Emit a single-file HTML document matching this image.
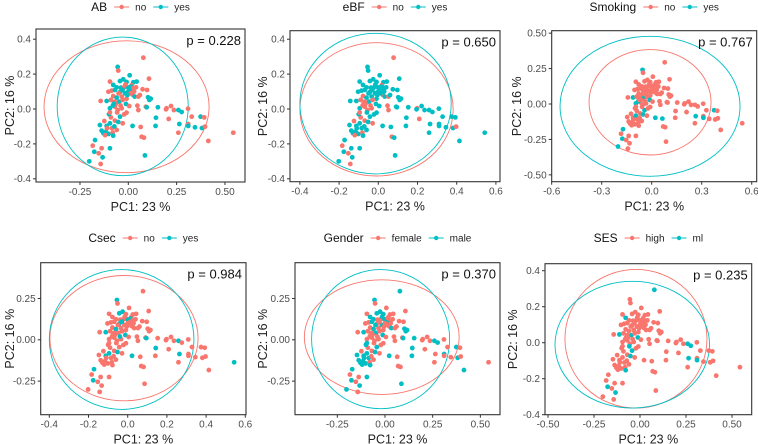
<!DOCTYPE html>
<html><head><meta charset="utf-8"><style>
html,body{margin:0;padding:0;background:#fff;}
svg{display:block;font-family:"Liberation Sans",Arial,sans-serif;}
</style></head><body>
<svg id="chart" width="758" height="444" viewBox="0 0 758 444" xmlns="http://www.w3.org/2000/svg"></svg>
<script>
// ---- shared PCA scores (PC1, PC2) ----
const pc1 = [0.078,-0.055,-0.052,0.007,0.107,-0.095,-0.043,-0.026,-0.009,0.026,0.043,0.017,-0.078,-0.060,-0.038,-0.022,-0.002,0.016,0.026,0.040,0.074,0.097,-0.103,-0.086,-0.069,-0.043,-0.017,0.009,0.022,0.033,0.052,0.102,0.116,0.109,-0.078,-0.060,-0.034,-0.009,-0.143,-0.112,-0.090,-0.069,-0.047,-0.029,-0.012,0.005,0.047,0.091,0.153,0.198,0.221,0.236,0.259,0.276,0.309,0.195,-0.095,-0.069,-0.055,-0.034,-0.009,0.052,0.095,0.143,0.209,0.328,0.310,0.310,0.374,0.393,0.381,0.397,0.543,0.414,0.259,0.141,0.264,0.345,-0.124,-0.147,-0.112,-0.095,-0.069,-0.052,-0.029,-0.090,-0.043,-0.022,0.022,0.064,-0.138,-0.116,-0.102,-0.081,-0.129,-0.078,0.069,0.081,-0.172,-0.184,-0.176,-0.153,-0.138,-0.095,-0.133,-0.202,-0.143,0.086,
 -0.050,-0.030,-0.015,0.000,0.012,-0.065,-0.080,-0.058,-0.040,-0.100,-0.085,-0.072,-0.060,-0.110,-0.095,-0.075,0.030,0.060,-0.005,-0.120];
const pc2 = [0.294,0.241,0.220,0.193,0.174,0.157,0.160,0.170,0.155,0.153,0.157,0.136,0.138,0.124,0.122,0.124,0.124,0.128,0.120,0.124,0.113,0.109,0.099,0.105,0.109,0.097,0.090,0.105,0.082,0.071,0.071,0.067,0.059,0.052,0.074,0.065,0.071,0.059,0.046,0.046,0.052,0.042,0.042,0.052,0.029,0.017,0.019,0.013,0.010,0.004,0.017,-0.006,-0.006,-0.017,0.002,-0.002,0.004,0.013,-0.006,0.004,-0.021,-0.006,0.010,-0.050,-0.057,-0.044,-0.086,-0.097,-0.044,-0.048,-0.109,-0.101,-0.136,-0.183,-0.136,-0.097,-0.086,-0.105,-0.069,-0.092,-0.097,-0.082,-0.067,-0.074,-0.082,-0.048,-0.044,-0.031,-0.097,-0.103,-0.124,-0.130,-0.143,-0.136,-0.139,-0.153,-0.159,-0.164,-0.178,-0.210,-0.245,-0.254,-0.225,-0.225,-0.277,-0.300,-0.315,-0.266,
 0.090,0.110,0.140,0.100,0.090,0.030,0.020,-0.020,0.020,-0.030,-0.110,-0.100,-0.120,-0.110,-0.020,0.030,0.100,0.080,0.080,-0.150];

// ---- second-group membership per panel (1-based point indices) ----
const groupAB = [2,4,7,8,9,10,11,13,14,15,17,18,25,26,27,28,30,32,33,34,36,40,43,45,49,53,54,57,63,64,68,69,71,76,77,78,80,81,82,84,87,89,91,92,93,95,96,99,101,104,105,106,108,110,112,115,118,120,124,127];
const groupEBF = [2,3,4,5,6,7,8,9,10,11,13,14,15,16,17,18,19,20,21,22,23,24,25,26,27,28,30,32,33,34,36,37,38,39,40,43,45,46,48,49,51,52,53,54,55,56,57,61,63,64,66,67,68,69,70,71,73,74,75,76,77,78,80,81,82,84,87,88,89,90,91,92,93,95,96,98,99,101,103,104,105,106,108,109,110,111,112,113,116,118,119,120,121,122,125,126,127];
const groupSmoking = [2,40,43,45,57,68,69,77,82,84,87,89,90,99,101,106,115];
const groupCsec = [2,7,8,17,18,26,36,40,45,53,63,64,73,77,81,82,84,89,99,101,110,117];
const groupGender = [1,2,7,8,9,13,14,17,25,27,28,30,32,33,34,36,40,43,45,49,53,54,63,64,67,69,71,74,76,80,81,82,84,87,89,91,92,93,95,96,99,101,104,105,106,108,109,111,118,119,122,123,128];
const groupSES = [1,13,40,43,45,53,54,68,77,84,87,96,101,105,116];

// ---- ellipses (data units): [cx, cy, rx, ry] ----
const ellAB_a = [-0.009,0.013,0.427,0.378], ellAB_b = [-0.029,0.015,0.339,0.397];
const ellEBF_a = [-0.009,-0.002,0.391,0.382], ellEBF_b = [-0.014,0.031,0.386,0.403];
const ellSmk_a = [-0.010,0.012,0.366,0.372], ellSmk_b = [-0.010,-0.016,0.540,0.494];
const ellCsec_a = [-0.019,0.010,0.378,0.379], ellCsec_b = [-0.031,0.002,0.369,0.423];
const ellGen_a = [-0.017,0.016,0.406,0.347], ellGen_b = [-0.023,0.004,0.362,0.421];
const ellSES_a = [-0.022,0.022,0.386,0.385], ellSES_b = [-0.042,-0.011,0.420,0.352];

// ---- titles / legends / p-values ----
const titles = ["AB","eBF","Smoking","Csec","Gender","SES"];
const levels = [["no","yes"],["no","yes"],["no","yes"],["no","yes"],["female","male"],["high","ml"]];
const pvals = ["p = 0.228","p = 0.650","p = 0.767","p = 0.984","p = 0.370","p = 0.235"];

// ---- tick labels ----
const xt1 = ["-0.25","0.00","0.25","0.50"], yt1 = ["-0.4","-0.2","0.0","0.2","0.4"];
const xt2 = ["-0.4","-0.2","0.0","0.2","0.4","0.6"], yt2 = ["-0.4","-0.2","0.0","0.2","0.4"];
const xt3 = ["-0.6","-0.3","0.0","0.3","0.6"], yt3 = ["-0.50","-0.25","0.00","0.25","0.50"];
const xt4 = ["-0.4","-0.2","0.0","0.2","0.4","0.6"], yt4 = ["-0.25","0.00","0.25"];
const xt5 = ["-0.25","0.00","0.25","0.50"], yt5 = ["-0.25","0.00","0.25"];
const xt6 = ["-0.50","-0.25","0.00","0.25","0.50"], yt6 = ["-0.4","-0.2","0.0","0.2","0.4"];

const RED = "#F8766D", CYAN = "#00BFC4";
const NS = "http://www.w3.org/2000/svg";
const svg = document.getElementById("chart");

const geo = [
 {L:36,R:245,T:29,B:182,x0:128.3,kx:193.3,y0:109,ky:174.5,yl:10,ly:7},
 {L:290,R:500,T:30.7,B:181.7,x0:378.3,kx:196,y0:109,ky:174.5,yl:263,ly:7},
 {L:551.7,R:756.7,T:30.7,B:181.7,x0:651.7,kx:166.7,y0:104,ky:141.7,yl:517,ly:7},
 {L:40.7,R:246,T:262.7,B:414.7,x0:127.7,kx:196,y0:339.8,ky:165.3,yl:10,ly:238},
 {L:295,R:500,T:262.7,B:414.7,x0:385,kx:190.7,y0:339.8,ky:165.3,yl:263,ly:238},
 {L:545,R:751.7,T:263.7,B:414.7,x0:640,kx:184,y0:342.7,ky:180,yl:513,ly:238}
];
const groups = [groupAB,groupEBF,groupSmoking,groupCsec,groupGender,groupSES];
const ells = [[ellAB_a,ellAB_b],[ellEBF_a,ellEBF_b],[ellSmk_a,ellSmk_b],[ellCsec_a,ellCsec_b],[ellGen_a,ellGen_b],[ellSES_a,ellSES_b]];
const xts = [xt1,xt2,xt3,xt4,xt5,xt6], yts = [yt1,yt2,yt3,yt4,yt5,yt6];

function mk(tag, attrs, parent){
  const e = document.createElementNS(NS, tag);
  for (const k in attrs) e.setAttribute(k, attrs[k]);
  (parent||svg).appendChild(e);
  return e;
}

geo.forEach((g, pi) => {
  const X = v => g.x0 + v * g.kx;
  const Y = v => g.y0 - v * g.ky;
  const pg = mk("g", {});
  
  

  const clipId = "clip" + pi;
  const cp = mk("clipPath", {id: clipId}, pg);
  mk("rect", {x:g.L, y:g.T, width:g.R-g.L, height:g.B-g.T}, cp);

  const eg = mk("g", {"clip-path":"url(#"+clipId+")"}, pg);
  ells[pi].forEach((el, ei) => {
    const e = mk("ellipse", {cx:X(el[0]), cy:Y(el[1]), rx:el[2]*g.kx, ry:el[3]*g.ky, fill:"none", stroke: ei===0?RED:CYAN, "stroke-width":0.9}, eg);
    
    
  });

  const gs = new Set(groups[pi]);
  pc1.forEach((v, i) => {
    const c = mk("circle", {cx:X(v), cy:Y(pc2[i]), r:2.4, fill: gs.has(i+1)?CYAN:RED}, eg);
    
    
  });

  const fr = mk("rect", {x:g.L, y:g.T, width:g.R-g.L, height:g.B-g.T, fill:"none", stroke:"#333", "stroke-width":1.1}, pg);
  
  

  xts[pi].forEach(t => {
    const px = X(parseFloat(t));
    mk("line", {x1:px, x2:px, y1:g.B, y2:g.B+3, stroke:"#333", "stroke-width":1}, pg);
    const tx = mk("text", {x:px, y:g.B+13, "text-anchor":"middle", "font-size":10, fill:"#4d4d4d"}, pg);
    tx.textContent = t;
    
    
  });
  yts[pi].forEach(t => {
    const py = Y(parseFloat(t));
    mk("line", {x1:g.L-3, x2:g.L, y1:py, y2:py, stroke:"#333", "stroke-width":1}, pg);
    const tx = mk("text", {x:g.L-5, y:py+3.4, "text-anchor":"end", "font-size":10, fill:"#4d4d4d"}, pg);
    tx.textContent = t;
    
    
  });

  const xa = mk("text", {x:(g.L+g.R)/2, y:g.B+29, "text-anchor":"middle", "font-size":12.5, fill:"#222"}, pg);
  xa.textContent = "PC1:  23 %";
  
  
  const cy = (g.T+g.B)/2;
  const ya = mk("text", {x:g.yl, y:cy, "text-anchor":"middle", "font-size":12.5, fill:"#222", transform:"rotate(-90 "+(g.yl)+" "+cy+") translate(0 4)"}, pg);
  ya.textContent = "PC2:  16 %";
  
  

  const pv = mk("text", {x:g.R-4, y:g.T+16, "text-anchor":"end", "font-size":13, fill:"#111"}, pg);
  pv.textContent = pvals[pi];
  
  

  const lg = mk("g", {}, pg);
  
  
  const base = g.ly + 4;
  const tt = mk("text", {x:0, y:base, "font-size":12, fill:"#111"}, lg);
  tt.textContent = titles[pi];
  
  
  let cx = tt.getComputedTextLength() + 7;
  levels[pi].forEach((lv, li) => {
    const col = li===0?RED:CYAN;
    const en = mk("g", {}, lg);
    
    
    mk("line", {x1:cx, x2:cx+15, y1:g.ly, y2:g.ly, stroke:col, "stroke-width":1}, en);
    mk("circle", {cx:cx+7.5, cy:g.ly, r:2.2, fill:col}, en);
    cx += 21;
    const lt = mk("text", {x:cx, y:base-0.5, "font-size":10, fill:"#222"}, en);
    lt.textContent = lv;
    cx += lt.getComputedTextLength() + 7;
  });
  const totalW = cx - 7;
  lg.setAttribute("transform", "translate(" + ((g.L+g.R)/2 - totalW/2) + " 0)");
});
</script>
</body></html>
